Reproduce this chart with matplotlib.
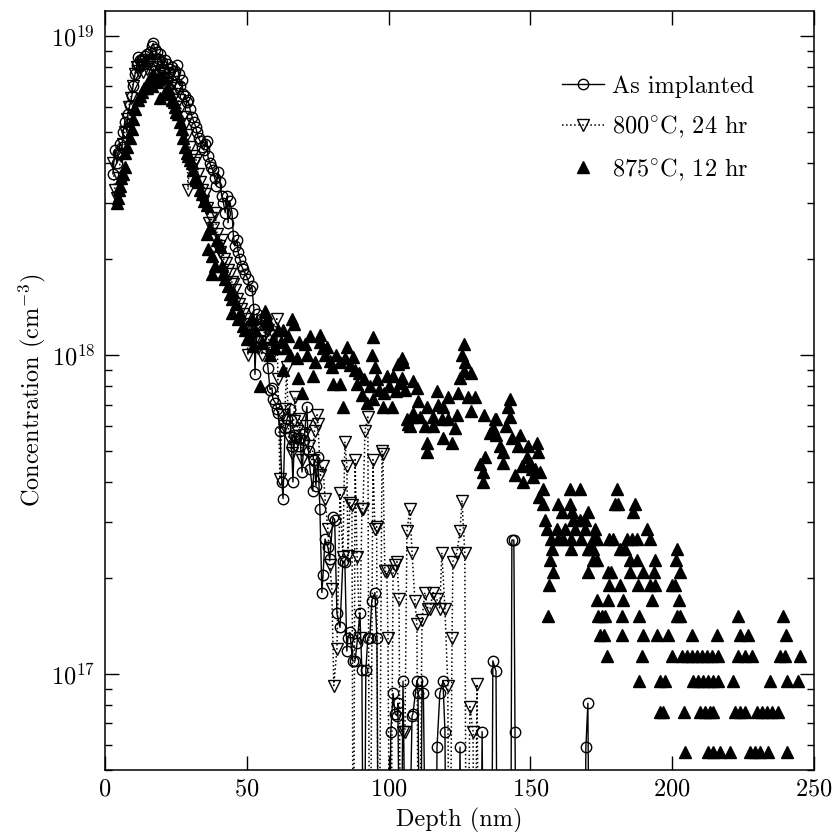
import numpy as np
import matplotlib
matplotlib.use("Agg")
import matplotlib.pyplot as plt
from matplotlib.ticker import NullFormatter

#%% Data: depth (nm) and concentration (cm^-3)

# as implanted (open circles, solid line); 1e16 = below detection
as_pts = [
    (2.8, 3.7e18), (3.5, 4.4e18), (4.2, 4.0e18), (4.6, 4.3e18), (5.3, 4.6e18),
    (6.0, 4.5e18), (6.4, 5.0e18), (7.0, 5.4e18), (7.7, 5.0e18), (8.1, 5.7e18),
    (8.8, 6.1e18), (9.5, 6.5e18), (9.9, 7.0e18), (10.6, 7.6e18), (11.2, 8.1e18),
    (11.6, 8.6e18), (12.3, 8.4e18), (13.0, 8.5e18), (13.6, 8.2e18), (14.2, 8.7e18),
    (14.8, 8.8e18), (15.5, 8.4e18), (16.0, 8.9e18), (16.5, 9.3e18), (17.0, 9.5e18),
    (17.6, 9.1e18), (18.3, 8.9e18), (18.9, 8.5e18), (19.4, 8.8e18), (20.0, 8.3e18),
    (20.6, 7.9e18), (21.2, 8.4e18), (21.9, 8.2e18), (22.5, 7.7e18), (23.1, 7.9e18),
    (23.7, 8.0e18), (24.3, 7.6e18), (24.8, 7.8e18), (25.4, 8.1e18), (26.0, 7.6e18),
    (26.4, 7.0e18), (27.0, 7.3e18), (27.6, 6.6e18), (28.3, 6.5e18), (28.9, 6.2e18),
    (29.3, 6.3e18), (30.0, 5.9e18), (30.7, 5.6e18), (31.3, 5.4e18), (32.0, 5.2e18),
    (32.4, 5.0e18), (33.0, 4.8e18), (33.5, 4.7e18), (34.2, 4.5e18), (34.8, 4.4e18),
    (35.4, 4.6e18), (36.0, 4.7e18), (36.3, 4.2e18), (37.0, 4.0e18), (37.5, 3.9e18),
    (38.0, 3.8e18), (38.7, 3.6e18), (39.3, 3.4e18), (39.8, 3.75e18), (40.5, 3.5e18),
    (41.2, 3.15e18), (41.8, 3.0e18), (42.4, 2.8e18), (43.0, 3.15e18), (43.4, 2.6e18),
    (44.0, 3.05e18), (44.8, 2.8e18), (45.3, 2.36e18), (45.8, 2.2e18), (46.5, 2.3e18),
    (47.0, 2.1e18), (47.6, 2.0e18), (48.2, 1.9e18), (48.7, 1.86e18), (49.5, 1.8e18),
    (50.4, 1.73e18), (51.1, 1.6e18), (51.8, 1.65e18), (52.5, 1.4e18), (52.9, 8.7e17),
    (53.6, 1.35e18), (54.3, 1.25e18), (55.0, 1.3e18), (55.6, 1.2e18), (56.4, 1.27e18),
    (56.8, 1.05e18), (57.5, 9.1e17), (58.2, 7.8e17), (58.9, 7.9e17), (59.2, 7.3e17),
    (60.0, 7.1e17), (60.6, 6.8e17), (61.0, 6.6e17), (61.7, 5.8e17), (62.4, 4.0e17),
    (62.8, 3.55e17), (63.5, 5.9e17), (64.2, 6.3e17), (65.2, 6.8e17), (65.8, 5.2e17),
    (66.3, 4.0e17), (66.8, 5.6e17), (67.5, 5.5e17), (68.2, 5.2e17), (68.8, 5.5e17),
    (69.5, 4.3e17), (70.2, 5.4e17), (71.2, 6.9e17), (71.8, 5.0e17), (72.3, 4.4e17),
    (73.3, 3.75e17), (73.8, 4.7e17), (74.4, 3.9e17), (75.1, 4.8e17), (75.8, 3.3e17),
    (76.5, 1.8e17), (76.9, 2.04e17), (77.6, 2.65e17), (78.6, 2.5e17), (79.3, 2.3e17),
    (80.4, 3.1e17), (81.0, 3.05e17), (81.8, 1.55e17), (82.9, 1.4e17), (83.9, 2.26e17),
    (84.6, 2.25e17), (85.3, 1.18e17), (85.7, 1.3e17), (86.4, 1.35e17), (87.3, 1.1e17),
    (88.2, 1.1e17), (88.9, 1.25e17), (89.9, 1.55e17), (90.6, 1.03e17), (91.3, 1e16),
    (92.0, 1.03e17), (92.7, 1.3e17), (93.4, 1.3e17), (94.1, 1.7e17), (95.2, 1.8e17),
    (95.9, 1.3e17), (96.6, 1e16), (100.0, 1e16), (100.8, 6.6e16), (101.6, 8.7e16),
    (102.3, 7.5e16), (103.0, 7.4e16), (103.3, 8.1e16), (104.2, 1e16), (105.1, 9.5e16),
    (106.5, 1e16), (108.3, 7.4e16), (108.6, 7.5e16), (110.0, 9.5e16), (110.4, 8.7e16),
    (111.2, 1e16), (111.8, 9.5e16), (112.3, 8.7e16), (113.5, 1e16), (116.5, 1e16),
    (117.1, 5.9e16), (118.1, 8.7e16), (119.2, 9.5e16), (119.9, 6.6e16), (120.5, 1e16),
    (124.5, 1e16), (125.2, 5.9e16), (126.0, 1e16), (132.4, 1e16), (133.0, 6.6e16),
    (133.8, 1e16), (136.2, 1e16), (136.8, 1.1e17), (137.9, 1.02e17), (138.5, 1e16),
    (143.0, 1e16), (143.5, 2.63e17), (144.2, 2.63e17), (144.6, 6.6e16), (145.3, 1e16),
    (169.0, 1e16), (169.6, 5.9e16), (170.3, 8.1e16), (171.0, 1e16),
]

# 800 C, 24 hr (open down triangles, dotted line)
a800_pts = [
    (2.8, 4.0e18), (3.5, 3.3e18), (4.2, 3.1e18), (4.8, 3.6e18), (5.5, 4.2e18),
    (6.3, 4.6e18), (7.0, 5.0e18), (7.7, 5.5e18), (8.4, 6.0e18), (9.1, 6.4e18),
    (9.8, 7.0e18), (10.6, 7.6e18), (11.2, 8.0e18), (12.0, 7.8e18), (12.7, 8.1e18),
    (13.4, 7.7e18), (14.1, 8.3e18), (14.8, 7.9e18), (15.5, 8.2e18), (16.2, 8.4e18),
    (16.9, 8.0e18), (17.6, 7.7e18), (18.3, 8.1e18), (19.0, 7.5e18), (19.7, 7.8e18),
    (20.4, 7.3e18), (21.1, 7.6e18), (21.8, 7.1e18), (22.5, 7.4e18), (23.2, 7.0e18),
    (23.9, 7.2e18), (24.6, 6.6e18), (25.3, 6.9e18), (26.0, 6.3e18), (26.7, 6.0e18),
    (27.4, 5.6e18), (28.1, 5.3e18), (28.8, 4.9e18), (29.3, 3.3e18), (30.0, 4.5e18),
    (30.7, 4.2e18), (31.4, 4.0e18), (32.1, 4.1e18), (32.8, 3.7e18), (33.5, 3.5e18),
    (34.2, 3.3e18), (34.6, 3.05e18), (35.3, 3.2e18), (36.0, 2.9e18), (36.7, 2.6e18),
    (37.4, 2.7e18), (38.1, 2.5e18), (38.8, 2.8e18), (39.5, 2.4e18), (40.2, 2.2e18),
    (40.5, 2.1e18), (41.2, 2.3e18), (41.9, 2.0e18), (42.6, 1.95e18), (43.3, 1.85e18),
    (44.0, 1.8e18), (44.7, 1.7e18), (45.1, 1.67e18), (45.8, 1.6e18), (46.5, 1.5e18),
    (47.2, 1.45e18), (47.9, 1.4e18), (48.6, 1.35e18), (49.3, 1.3e18), (50.0, 1.2e18),
    (50.4, 1.0e18), (51.1, 1.25e18), (51.8, 1.15e18), (52.5, 1.1e18), (53.2, 1.2e18),
    (53.9, 1.05e18), (54.6, 1.1e18), (55.3, 1.0e18), (56.0, 1.15e18), (56.7, 1.25e18),
    (57.4, 1.2e18), (58.1, 1.05e18), (58.8, 1.0e18), (59.5, 1.15e18), (60.6, 1.3e18),
    (61.0, 8.4e17), (61.7, 4.1e17), (62.4, 6.5e17), (63.0, 6.0e17), (63.5, 6.8e17),
    (64.1, 9.2e17), (64.8, 5.5e17), (65.9, 4.95e17), (66.5, 6.2e17), (67.0, 7.4e17),
    (67.7, 5.8e17), (68.5, 6.3e17), (69.5, 4.7e17), (70.2, 5.6e17), (71.0, 6.0e17),
    (71.8, 5.2e17), (73.0, 4.7e17), (73.9, 5.8e17), (74.8, 6.5e17), (75.1, 6.1e17),
    (76.0, 4.2e17), (76.9, 4.5e17), (77.6, 3.55e17), (78.6, 2.85e17), (79.3, 2.2e17),
    (80.0, 1.85e17), (80.7, 9.2e16), (81.8, 1.2e17), (82.9, 3.7e17), (83.9, 2.33e17),
    (84.6, 5.35e17), (85.3, 4.5e17), (85.7, 2.35e17), (86.4, 3.45e17), (87.1, 3.4e17),
    (87.6, 1e16), (88.2, 4.7e17), (88.9, 2.33e17), (89.9, 1.3e17), (90.6, 3.3e17),
    (91.0, 3.3e17), (91.7, 5.8e17), (92.7, 6.4e17), (93.4, 1e16), (94.5, 4.7e17),
    (95.2, 2.85e17), (95.8, 2.9e17), (96.5, 1e16), (97.7, 5.0e17), (98.0, 4.9e17),
    (98.7, 2.1e17), (99.4, 2.1e17), (99.8, 1.3e17), (100.6, 1e16), (101.6, 2.1e17),
    (102.3, 2.2e17), (103.0, 2.25e17), (103.7, 1.72e17), (104.4, 1e16), (105.1, 6.6e16),
    (105.8, 6.6e16), (106.5, 2.8e17), (107.5, 3.3e17), (108.3, 2.4e17), (109.3, 1.7e17),
    (110.0, 1.43e17), (110.7, 1e16), (111.8, 1.48e17), (112.8, 1.8e17), (113.9, 1.6e17),
    (114.6, 1.6e17), (115.7, 1.8e17), (117.0, 1.72e17), (118.1, 1.6e17), (118.8, 2.4e17),
    (119.9, 1.6e17), (120.9, 9.2e16), (121.5, 1e16), (122.4, 1.3e17), (122.7, 2.25e17),
    (124.1, 2.4e17), (125.2, 2.8e17), (125.9, 3.5e17), (126.9, 2.4e17), (127.5, 1e16),
    (128.7, 7.9e16), (129.8, 6.6e16), (130.3, 1e16), (131.2, 9.3e16), (132.0, 1e16),
]

# 875 C, 12 hr (filled up triangles) - upper part
a875_pts = [
    (4.2, 3.0e18), (4.6, 3.1e18), (5.0, 3.3e18), (5.3, 3.4e18), (5.8, 3.6e18),
    (6.3, 3.7e18), (7.0, 3.9e18), (7.0, 4.3e18), (7.7, 4.5e18), (8.8, 4.8e18),
    (9.5, 5.1e18), (9.9, 5.5e18), (10.6, 5.9e18), (11.6, 6.3e18), (12.3, 6.5e18),
    (13.0, 6.7e18), (13.9, 6.9e18), (14.8, 6.9e18), (15.3, 7.2e18), (15.9, 7.4e18),
    (16.5, 7.0e18), (17.0, 7.6e18), (17.6, 7.4e18), (18.3, 7.2e18), (19.4, 7.4e18),
    (20.5, 7.5e18), (19.4, 6.4e18), (21.2, 6.7e18), (22.2, 6.9e18), (23.0, 6.6e18),
    (23.6, 6.3e18), (24.2, 6.2e18), (24.7, 6.0e18), (25.2, 5.8e18), (25.7, 5.7e18),
    (26.4, 5.4e18), (27.0, 5.1e18), (27.5, 4.8e18), (28.2, 4.5e18), (28.8, 4.3e18),
    (29.3, 4.2e18), (30.0, 4.1e18), (30.7, 4.0e18), (31.2, 3.8e18), (31.7, 3.6e18),
    (32.2, 3.55e18), (32.8, 3.5e18), (33.5, 3.3e18), (34.2, 3.2e18), (35.0, 3.05e18),
    (36.0, 2.95e18), (36.0, 2.4e18), (36.3, 2.15e18), (37.0, 2.5e18), (37.7, 2.04e18),
    (37.7, 1.8e18), (38.8, 1.9e18), (39.5, 2.3e18), (40.5, 2.2e18), (41.2, 1.9e18),
    (41.8, 1.8e18), (42.3, 1.73e18), (43.4, 1.65e18), (44.0, 1.55e18), (44.8, 1.5e18),
    (45.1, 1.58e18), (44.8, 1.36e18), (46.2, 1.45e18), (47.0, 1.3e18), (47.6, 1.36e18),
    (48.7, 1.23e18), (49.4, 1.2e18), (50.1, 1.12e18), (50.8, 1.15e18), (51.8, 1.3e18),
    (52.2, 1.07e18), (53.0, 1.2e18), (54.7, 8.0e17), (55.4, 1.1e18), (56.4, 1.38e18),
    (57.0, 1.3e18), (57.6, 1.25e18), (58.2, 1.0e18), (59.2, 1.12e18), (60.0, 1.05e18),
    (61.0, 1.2e18), (62.0, 1.1e18), (62.8, 1.2e18), (62.8, 9.0e17), (63.8, 1.05e18),
    (64.5, 1.15e18), (65.2, 1.0e18), (66.0, 1.3e18), (66.8, 1.25e18), (67.7, 9.8e17),
    (68.0, 8.5e17), (68.5, 1.1e18), (69.5, 7.6e17), (70.5, 1.08e18), (71.2, 1.0e18),
    (72.3, 1.15e18), (73.3, 8.6e17), (74.0, 9.5e17), (75.8, 1.16e18), (75.8, 1.1e18),
    (76.8, 1.05e18), (77.6, 1.0e18), (78.3, 1.06e18), (79.2, 9.6e17), (80.0, 9.2e17),
    (80.4, 8.1e17), (81.5, 1.0e18), (82.9, 9.5e17), (82.9, 8.1e17), (83.9, 6.9e17),
    (84.5, 9.8e17), (85.3, 1.06e18), (86.5, 9.3e17), (87.3, 9.9e17), (88.2, 9.0e17),
    (88.9, 8.1e17), (89.7, 8.8e17), (90.6, 7.5e17), (91.5, 8.4e17), (92.4, 7.1e17),
    (93.3, 8.0e17), (94.1, 1.0e18), (94.5, 1.14e18), (94.5, 7.3e17), (95.3, 9.2e17),
    (95.9, 8.4e17), (96.8, 7.8e17), (98.0, 6.9e17), (98.5, 7.6e17), (99.4, 8.6e17),
    (100.3, 8.0e17), (101.2, 6.9e17), (101.6, 8.6e17), (102.5, 7.7e17), (103.3, 9.4e17),
    (104.0, 8.2e17), (104.7, 9.8e17), (104.7, 8.5e17), (105.1, 9.5e17), (105.8, 7.8e17),
    (106.5, 6.3e17), (106.8, 6.1e17), (107.5, 6.0e17), (108.3, 6.4e17), (108.6, 8.3e17),
    (108.6, 6.6e17), (110.0, 7.9e17), (110.4, 7.2e17), (111.0, 6.4e17), (112.8, 6.0e17),
    (113.5, 6.9e17), (113.5, 5.3e17), (113.5, 4.97e17), (115.7, 6.4e17), (115.7, 6.0e17),
    (117.0, 7.7e17), (117.4, 7.0e17), (118.8, 6.3e17), (119.2, 6.9e17), (119.2, 5.5e17),
    (121.0, 7.4e17), (121.0, 6.3e17), (122.4, 5.3e17), (123.4, 5.9e17), (124.0, 6.5e17),
    (124.5, 7.6e17), (125.2, 8.5e17), (125.8, 1.0e18), (126.6, 1.08e18), (127.0, 9.5e17),
    (126.6, 8.9e17), (129.0, 8.8e17), (128.0, 7.4e17), (130.5, 7.4e17), (129.0, 6.7e17),
    (133.8, 6.5e17), (137.4, 6.3e17), (142.8, 7.3e17), (142.0, 6.9e17), (143.0, 6.4e17),
    (138.0, 6.3e17), (141.4, 6.0e17), (137.0, 5.9e17), (135.8, 5.7e17), (138.0, 5.6e17),
    (139.3, 5.2e17), (140.3, 4.97e17), (143.5, 5.5e17), (146.3, 5.6e17), (145.6, 5.2e17),
    (149.2, 5.2e17), (152.3, 5.3e17), (152.7, 4.97e17), (148.8, 4.8e17), (132.2, 4.55e17),
    (134.0, 4.8e17), (133.3, 4.3e17), (133.3, 4.0e17), (140.3, 4.6e17), (144.6, 4.2e17),
    (147.4, 4.0e17), (150.6, 4.4e17), (153.4, 4.3e17), (154.4, 3.8e17), (150.9, 4.15e17),
    (147.0, 4.5e17), (149.9, 4.6e17), (151.5, 4.4e17), (153.0, 3.6e17),
]

# 875 C, 12 hr - tail: counts are quantized, one level per row
tail_levels = [3.8e17, 3.42e17, 3.23e17, 3.04e17, 2.85e17, 2.66e17, 2.47e17,
               2.28e17, 2.09e17, 1.9e17, 1.71e17, 1.52e17, 1.33e17, 1.14e17,
               9.5e16, 7.6e16, 5.7e16]
tail_depths = [
    [164.0, 167.5, 180.5],
    [154.4, 159.7, 164.0, 179.8, 180.9, 186.9],
    [161.1, 164.7, 170.3, 186.2],
    [155.1, 165.0, 167.5, 169.3],
    [155.9, 159.4, 162.2, 165.7, 169.3, 172.8, 191.1],
    [157.4, 159.8, 161.5, 164.4, 167.9, 172.0, 173.5, 177.9, 179.1, 184.0,
     185.8, 187.6, 192.2],
    [157.6, 164.4, 170.3, 171.0, 172.0, 181.6, 183.4, 201.7],
    [156.9, 172.0, 173.5, 185.1, 187.6, 193.9, 201.3],
    [158.0, 170.3, 177.4, 178.4, 185.1, 189.7, 193.6, 202.8],
    [156.6, 177.7, 181.6, 188.0, 192.2, 194.0, 200.0, 201.0],
    [173.5, 177.4, 182.6, 192.9, 202.4],
    [156.2, 173.8, 175.2, 176.3, 182.3, 188.3, 201.7, 202.8, 223.2, 239.0],
    [174.5, 176.0, 182.3, 189.7, 194.6, 198.5, 207.0, 215.8, 223.9, 226.7, 240.1],
    [177.0, 189.4, 200.0, 203.5, 205.2, 207.0, 208.7, 210.5, 212.3, 214.0,
     216.1, 223.2, 225.7, 228.1, 238.0, 239.8, 245.0],
    [188.3, 195.7, 197.5, 207.3, 209.1, 210.9, 212.6, 214.4, 216.1, 221.4,
     234.5, 240.5, 244.4],
    [195.7, 196.8, 204.2, 209.8, 211.6, 213.3, 214.4, 222.1, 223.9, 225.7,
     229.9, 231.7, 233.4, 235.2, 237.3],
    [204.5, 212.6, 214.4, 216.8, 220.4, 227.4, 229.2, 231.0, 233.8, 240.5],
]

labels = ["As implanted", r"800$^{\circ}$C, 24 hr", r"875$^{\circ}$C, 12 hr"]

#%% Build arrays

as_x, as_y = np.array(as_pts).T
a800_x, a800_y = np.array(a800_pts).T
up_x, up_y = np.array(a875_pts).T
tail_x = np.concatenate([np.array(d) for d in tail_depths])
tail_y = np.concatenate([np.full(len(d), lv) for d, lv in zip(tail_depths, tail_levels)])
a875_x = np.concatenate([up_x, tail_x])
a875_y = np.concatenate([up_y, tail_y])

#%% Plot

plt.rcParams['font.family'] = 'serif'
plt.rcParams['font.serif'] = ['cmr10']
plt.rcParams['mathtext.fontset'] = 'cm'
plt.rcParams['axes.formatter.use_mathtext'] = True
plt.rcParams['font.size'] = 17.5

fig = plt.figure(figsize=(8.35, 8.32), dpi=100)
ax = fig.add_axes([0.1257, 0.0745, 0.849, 0.9123])

h875, = ax.plot(a875_x, a875_y, ls='none', marker='^', ms=8, color='k',
                mec='k', label=labels[2], zorder=2)
h800, = ax.plot(a800_x, a800_y, ls=':', lw=1.1, color='k', marker='v', ms=8,
                mfc='none', mec='k', mew=1.0, label=labels[1], zorder=3)
has, = ax.plot(as_x, as_y, ls='-', lw=1.0, color='k', marker='o', ms=7.5,
               mfc='none', mec='k', mew=1.0, label=labels[0], zorder=4)

ax.set_yscale('log')
ax.set_xlim(0, 250)
ax.set_ylim(5e16, 1.2e19)
ax.set_xticks([0, 50, 100, 150, 200, 250])
ax.yaxis.set_minor_formatter(NullFormatter())

ax.tick_params(which='both', direction='in', top=True, right=True, width=1.0)
ax.tick_params(which='major', length=10)
ax.tick_params(which='minor', length=5)
ax.tick_params(axis='x', pad=6)
ax.tick_params(axis='y', pad=7)
for s in ax.spines.values():
    s.set_linewidth(1.1)

ax.set_xlabel("Depth (nm)", labelpad=5)
ax.set_ylabel(r"Concentration (cm$^{-3}$)", labelpad=2)

ax.legend(handles=[has, h800, h875], loc='upper left', bbox_to_anchor=(0.645, 0.915),
          frameon=False, handlelength=1.7, handletextpad=0.35, labelspacing=0.65,
          borderaxespad=0, borderpad=0, numpoints=1)

fig.savefig("out.png", dpi=100)
